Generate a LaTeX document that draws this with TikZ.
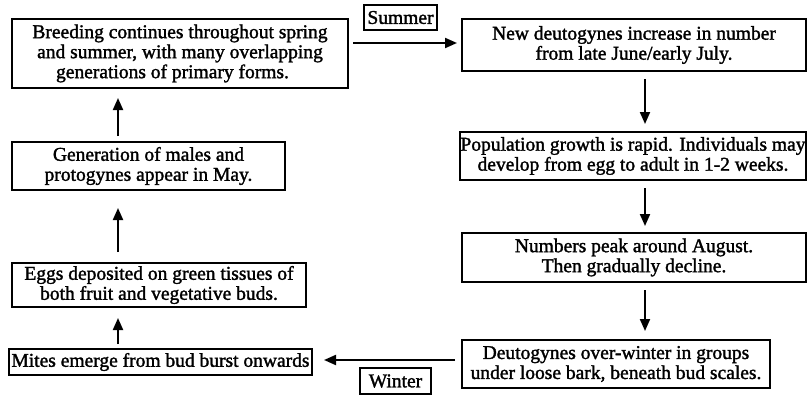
\documentclass[tikz,border=0pt]{standalone}
\usepackage{fontspec}
\setmainfont{Liberation Serif}[BoldFont=Liberation Serif, BoldFeatures={FakeBold=1.6}]
\usetikzlibrary{arrows.meta}
\begin{document}
\begin{tikzpicture}[x=1pt,y=-1pt,
  box/.style={draw, line width=2pt, align=center, inner sep=0pt,
    font=\fontsize{19.5}{20}\selectfont\bfseries},
  arr/.style={line width=2pt, -{Triangle[length=12pt,width=10pt]}}]
\useasboundingbox (0,0) rectangle (808,396);
\node[box, minimum width=336pt, minimum height=69pt] (b1) at (180,53.5)
  {Breeding continues throughout spring\\and summer, with many overlapping\hspace*{12pt}\\generations of primary forms.\hspace*{15pt}};
\node[box, minimum width=344pt, minimum height=52pt] (b2) at (634,45)
  {New deutogynes increase in number\\from late June/early July.};
\node[box, minimum width=346pt, minimum height=48pt] (b3) at (633,156)
  {Population growth is rapid. Individuals may\\develop from egg to adult in 1-2 weeks.};
\node[box, minimum width=344pt, minimum height=49pt] (b4) at (634,257.5)
  {Numbers peak around August.\\Then gradually decline.};
\node[box, minimum width=308pt, minimum height=48pt] (b5) at (616,364)
  {Deutogynes over-winter in groups\\under loose bark, beneath bud scales.};
\node[box, minimum width=303pt, minimum height=26pt] (b6) at (160.5,362)
  {Mites emerge from bud burst onwards};
\node[box, minimum width=294pt, minimum height=44pt] (b7) at (159,285)
  {Eggs deposited on green tissues of\\both fruit and vegetative buds.};
\node[box, minimum width=273pt, minimum height=48pt] (b8) at (148.5,166)
  {Generation of males and\\protogynes appear in May.};
\node[box, minimum width=73pt, minimum height=25pt] (sum) at (400.5,17.5) {Summer};
\node[box, minimum width=71pt, minimum height=26pt] (win) at (395.5,381) {Winter};
\coordinate (rx) at (645,0);
\coordinate (lx) at (118,0);
\coordinate (sy) at (0,43);
\coordinate (wy) at (0,360);
\draw[arr, shorten <=4pt, shorten >=4pt] (b1.east |- sy) -- (b2.west |- sy);
\draw[arr, shorten <=7pt, shorten >=7pt] (b2.south -| rx) -- (b3.north -| rx);
\draw[arr, shorten <=7pt, shorten >=6pt] (b3.south -| rx) -- (b4.north -| rx);
\draw[arr, shorten <=7pt, shorten >=8pt] (b4.south -| rx) -- (b5.north -| rx);
\draw[arr, shorten <=6pt, shorten >=11pt] (b5.west |- wy) -- (b6.east |- wy);
\draw[arr, shorten <=4pt, shorten >=10pt] (b6.north -| lx) -- (b7.south -| lx);
\draw[arr, shorten <=10pt, shorten >=17pt] (b7.north -| lx) -- (b8.south -| lx);
\draw[arr, shorten <=5pt, shorten >=9pt] (b8.north -| lx) -- (b1.south -| lx);
\end{tikzpicture}
\end{document}
